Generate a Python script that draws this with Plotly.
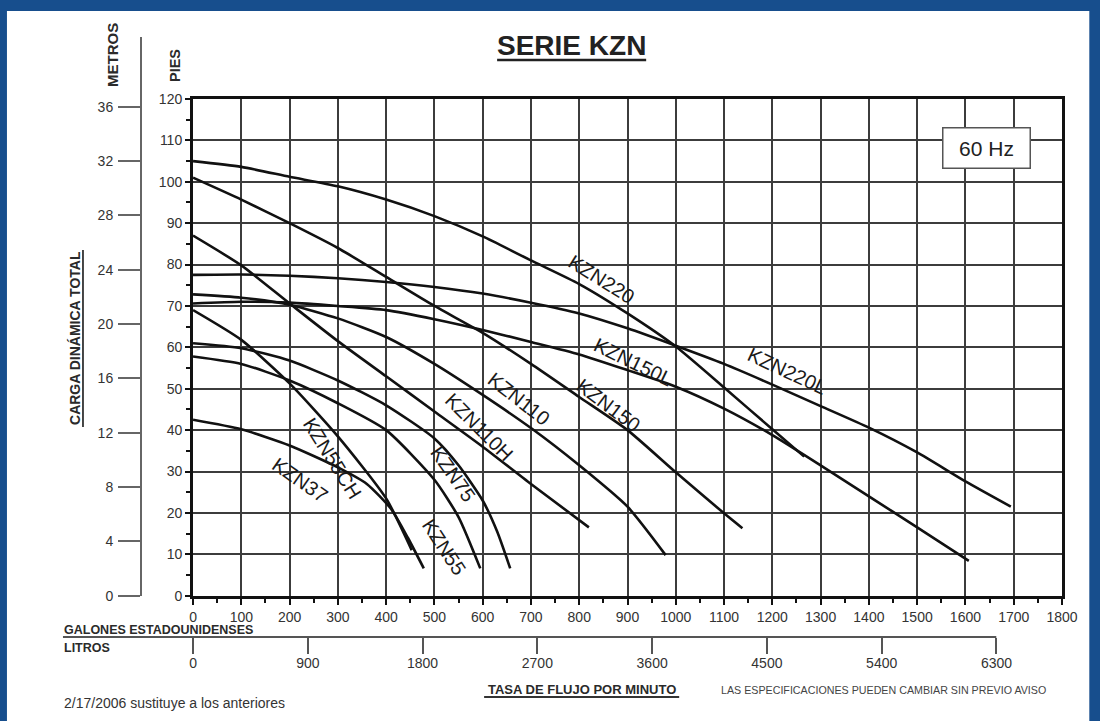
import plotly.graph_objects as go

# ---------------- data (US gallons per minute, head in feet) ----------------
KZN220_Q = [0, 100, 200, 300, 400, 500, 600, 700, 800, 900, 1000, 1100, 1200, 1266]
KZN220_H = [105, 103.6, 101.2, 98.9, 95.7, 91.7, 86.8, 81.0, 75.3, 68.2, 60.2, 50.3, 40.2, 33.6]

KZN220L_Q = [0, 100, 200, 300, 400, 500, 600, 700, 800, 900, 1000, 1100, 1200, 1300, 1400, 1500, 1600, 1694]
KZN220L_H = [77.5, 77.6, 77.3, 76.7, 75.8, 74.6, 73.0, 70.8, 68.2, 64.6, 60.4, 56.0, 51.0, 45.8, 40.6, 34.6, 27.6, 21.5]

KZN150_Q = [0, 100, 200, 300, 400, 500, 600, 700, 800, 900, 1000, 1100, 1138]
KZN150_H = [101, 95.7, 90.0, 84.0, 77.0, 70.0, 63.5, 56.0, 48.0, 40.0, 29.8, 19.9, 16.3]

KZN150L_Q = [0, 100, 200, 300, 400, 500, 600, 700, 800, 900, 1000, 1100, 1200, 1300, 1400, 1500, 1607]
KZN150L_H = [70.6, 71.0, 70.8, 70.0, 69.0, 66.8, 64.2, 61.3, 58.3, 54.5, 50.5, 45.2, 38.8, 31.5, 24.0, 16.5, 8.4]

KZN110H_Q = [0, 100, 200, 300, 400, 500, 600, 700, 820]
KZN110H_H = [87, 79.8, 70.6, 61.5, 53.0, 44.5, 36.0, 27.0, 16.5]

KZN110_Q = [0, 100, 200, 300, 400, 500, 600, 700, 800, 900, 979]
KZN110_H = [72.8, 72.0, 70.3, 67.0, 62.5, 56.0, 48.5, 40.5, 31.5, 21.5, 9.8]

KZN75_Q = [0, 100, 200, 300, 400, 500, 550, 600, 630, 657]
KZN75_H = [61.0, 59.8, 56.8, 52.0, 46.0, 38.0, 31.5, 23.0, 15.5, 6.6]

KZN55_Q = [0, 100, 200, 300, 400, 500, 550, 595]
KZN55_H = [57.8, 56.0, 52.0, 46.5, 40.0, 28.0, 19.0, 6.6]

KZN55CH_Q = [0, 100, 200, 300, 400, 453]
KZN55CH_H = [69.0, 61.8, 51.3, 38.5, 23.5, 11.0]

KZN37_Q = [0, 100, 200, 300, 360, 410, 445, 478]
KZN37_H = [42.5, 40.2, 36.3, 31.0, 27.0, 21.0, 14.0, 6.6]

CURVES = [
    ("KZN220", KZN220_Q, KZN220_H),
    ("KZN220L", KZN220L_Q, KZN220L_H),
    ("KZN150", KZN150_Q, KZN150_H),
    ("KZN150L", KZN150L_Q, KZN150L_H),
    ("KZN110H", KZN110H_Q, KZN110H_H),
    ("KZN110", KZN110_Q, KZN110_H),
    ("KZN75", KZN75_Q, KZN75_H),
    ("KZN55", KZN55_Q, KZN55_H),
    ("KZN55CH", KZN55CH_Q, KZN55CH_H),
    ("KZN37", KZN37_Q, KZN37_H),
]

GAL_TICKS = list(range(0, 1900, 100))
FT_TICKS = list(range(0, 130, 10))
LITROS_TICKS = [0, 900, 1800, 2700, 3600, 4500, 5400, 6300]
METROS_TICKS = [0, 4, 8, 12, 16, 20, 24, 28, 32, 36]

GAL_MAX = 1800
FT_MAX = 120
L_PER_GAL = 3.785411784
FT_PER_M = 3.28084

# ---------------- layout geometry (pixels) ----------------
W, H = 1100, 721
PAPER_L, PAPER_R, PAPER_T, PAPER_B = 141, 1061.7, 99, 637
AX_X0 = 193      # pixel of x=0
AX_Y0 = 595.7    # pixel of y=0


def px_x(p):
    return (p - PAPER_L) / (PAPER_R - PAPER_L)


def px_y(p):
    return (PAPER_B - p) / (PAPER_B - PAPER_T)


def gal_at(p):
    return (p - AX_X0) / (PAPER_R - AX_X0) * GAL_MAX


def ft_at(p):
    return (AX_Y0 - p) / (AX_Y0 - PAPER_T) * FT_MAX


FONT = "Liberation Sans, Arial, Helvetica, sans-serif"
GRID = "#3c3c3c"
TXT = "#2a2a2a"
BLUE = "#174e8d"

fig = go.Figure()

for name, q, h in CURVES:
    fig.add_trace(go.Scatter(
        x=q, y=h, mode="lines", name=name,
        line=dict(color="#111111", width=2.6, shape="spline", smoothing=0.6),
        hoverinfo="x+y+name", xaxis="x", yaxis="y",
    ))

# helper trace so the litres / metres axes are drawn
fig.add_trace(go.Scatter(
    x=[LITROS_TICKS[0]], y=[METROS_TICKS[0]], mode="markers",
    marker=dict(opacity=0, size=1), xaxis="x2", yaxis="y2",
    hoverinfo="skip", showlegend=False,
))

xdom = [px_x(AX_X0), 1]
ydom = [px_y(AX_Y0), 1]

fig.update_layout(
    width=W, height=H,
    margin=dict(l=PAPER_L, r=W - PAPER_R, t=PAPER_T, b=H - PAPER_B, pad=0),
    paper_bgcolor=BLUE,
    plot_bgcolor="white",
    showlegend=False,
    font=dict(family=FONT, color=TXT, size=14),
    xaxis=dict(
        domain=xdom, range=[0, GAL_MAX], tickvals=GAL_TICKS,
        showgrid=True, gridcolor=GRID, gridwidth=1.6,
        showline=True, linecolor="#111", linewidth=3, mirror=True,
        ticks="outside", ticklen=6, tickwidth=2.2, tickcolor="#111",
        minor=dict(dtick=50, ticks="outside", ticklen=4, tickwidth=1.6, tickcolor="#111", showgrid=False),
        tickfont=dict(size=14, color="#333", family=FONT),
        ticklabelstandoff=0,
        zeroline=False, anchor="y", fixedrange=True,
    ),
    yaxis=dict(
        domain=ydom, range=[0, FT_MAX], tickvals=FT_TICKS,
        showgrid=True, gridcolor=GRID, gridwidth=1.6,
        showline=True, linecolor="#111", linewidth=3, mirror=True,
        ticks="outside", ticklen=5, tickwidth=2.2, tickcolor="#111",
        minor=dict(dtick=5, ticks="outside", ticklen=4, tickwidth=1.6, tickcolor="#111", showgrid=False),
        tickfont=dict(size=14, color="#333", family=FONT),
        ticklabelstandoff=0,
        zeroline=False, anchor="x", fixedrange=True,
    ),
    xaxis2=dict(
        overlaying="x", anchor="free", position=0, side="bottom",
        domain=xdom, range=[0, GAL_MAX * L_PER_GAL], tickvals=LITROS_TICKS,
        showgrid=False, showline=False, zeroline=False,
        ticks="outside", ticklen=16, tickwidth=1.6, tickcolor="#555",
        tickfont=dict(size=14, color="#333", family=FONT),
        ticklabelstandoff=-3, fixedrange=True,
    ),
    yaxis2=dict(
        overlaying="y", anchor="free", position=0, side="left",
        domain=ydom, range=[0, FT_MAX / FT_PER_M], tickvals=METROS_TICKS,
        showgrid=False, zeroline=False,
        showline=True, linecolor="#666", linewidth=2,
        ticks="outside", ticklen=22, tickwidth=1.6, tickcolor="#666",
        tickfont=dict(size=14, color="#333", family=FONT),
        ticklabelstandoff=2, fixedrange=True,
    ),
)

shapes = [
    # white sheet inside the blue frame
    dict(type="rect", xref="paper", yref="paper", layer="below",
         x0=px_x(7), x1=px_x(1089), y0=px_y(11), y1=px_y(725),
         fillcolor="white", line=dict(width=0)),
    # metres axis line extension above the plot
    dict(type="line", xref="paper", yref="paper",
         x0=0, x1=0, y0=1, y1=px_y(37), line=dict(color="#666", width=2)),
    # litres axis line (also underline of GALONES ESTADOUNIDENSES)
    dict(type="line", xref="paper", yref="paper",
         x0=px_x(63), x1=px_x(996), y0=0, y1=0, line=dict(color="#555", width=1.8)),
    # title underline
    dict(type="line", xref="paper", yref="paper",
         x0=px_x(497), x1=px_x(646), y0=px_y(60), y1=px_y(60), line=dict(color="#222", width=2.5)),
    # CARGA DINAMICA TOTAL underline
    dict(type="line", xref="paper", yref="paper",
         x0=px_x(83), x1=px_x(83), y0=px_y(250), y1=px_y(427), line=dict(color="#333", width=1.8)),
    # TASA DE FLUJO underline
    dict(type="line", xref="paper", yref="paper",
         x0=px_x(484), x1=px_x(679), y0=px_y(697), y1=px_y(697), line=dict(color="#333", width=1.8)),
]
fig.update_layout(shapes=shapes)

ann = []


def paper_text(text, x, y, size, bold=False, angle=0, xanchor="center", color=TXT):
    ann.append(dict(
        text=f"<b>{text}</b>" if bold else text,
        xref="paper", yref="paper", x=px_x(x), y=px_y(y),
        xanchor=xanchor, yanchor="middle", showarrow=False, textangle=angle,
        font=dict(size=size, family=FONT, color=color),
    ))


paper_text("SERIE KZN", 571.5, 45, 28, bold=True, color="#222")
paper_text("METROS", 113, 55, 15, bold=True, angle=-90)
paper_text("PIES", 175, 66, 14.5, bold=True, angle=-90)
paper_text("CARGA DINÁMICA TOTAL", 75, 338, 14, bold=True, angle=-90)
paper_text("GALONES ESTADOUNIDENSES", 62, 630, 12.5, bold=True, xanchor="left")
paper_text("LITROS", 62, 648, 12.5, bold=True, xanchor="left")
paper_text("TASA DE FLUJO POR MINUTO", 581.5, 689, 13, bold=True)
paper_text("LAS ESPECIFICACIONES PUEDEN CAMBIAR SIN PREVIO AVISO", 883.5, 689.5, 10.7, color="#444")
paper_text("2/17/2006 sustituye a los anteriores", 62, 702.5, 14, xanchor="left", color="#333")

# 60 Hz box
ann.append(dict(
    text="60 Hz", xref="x", yref="y", x=gal_at(986.5), y=ft_at(147.5),
    showarrow=False, font=dict(size=21, family=FONT, color="#222"),
    bgcolor="white", bordercolor="#555", borderwidth=1.5, borderpad=1,
    width=84, height=37,
))

# curve labels: (name, center px x, center px y, angle)
LABELS = [
    ("KZN220", 601, 279, 32),
    ("KZN220L", 787, 371, 25),
    ("KZN150L", 633, 362, 26),
    ("KZN150", 608, 405, 37),
    ("KZN110", 519, 399, 38),
    ("KZN110H", 479, 427, 45),
    ("KZN75", 453, 474, 55),
    ("KZN55", 444, 547, 57),
    ("KZN55CH", 332, 458, 58),
    ("KZN37", 300, 480, 35),
]
for name, lx, ly, ang in LABELS:
    ann.append(dict(
        text=name, xref="x", yref="y", x=gal_at(lx), y=ft_at(ly),
        showarrow=False, textangle=ang, xanchor="center", yanchor="middle",
        font=dict(size=20, family=FONT, color="#1a1a1a"),
    ))

fig.update_layout(annotations=ann)

fig.write_html(
    "out.html",
    config={"displayModeBar": False},
    post_script="document.body.style.margin='0px';document.body.style.padding='0px';"
                "document.body.style.overflow='hidden';",
)
